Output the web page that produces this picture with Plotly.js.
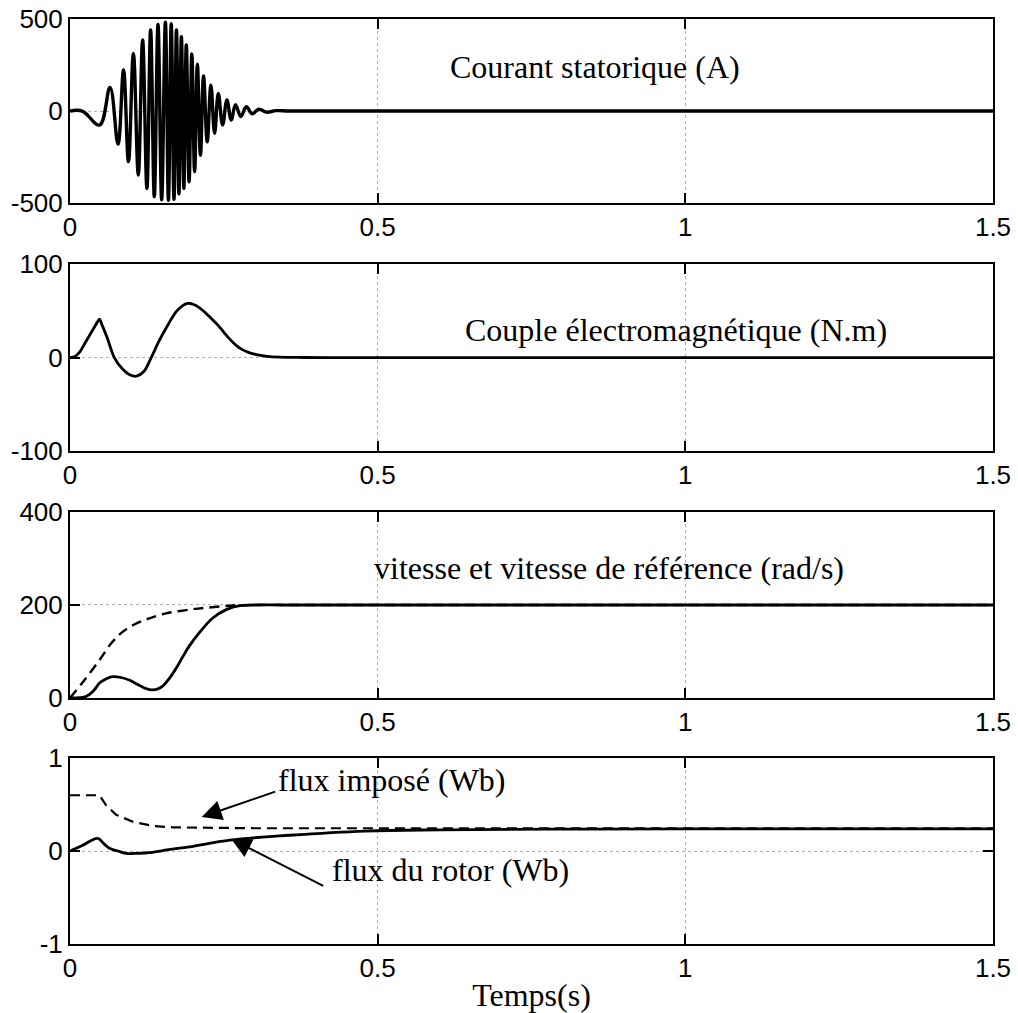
<!DOCTYPE html>
<html><head><meta charset="utf-8">
<script src="https://cdn.plot.ly/plotly-3.0.1.min.js"></script>
<style>body{margin:0;background:#fff}#chart{width:1018px;height:1013px}</style>
</head><body><div id="chart"></div>
<script>
// Panel 1: stator current (A) - extrema
const currentT = [0, 0.02, 0.048, 0.065, 0.078, 0.087, 0.095, 0.103, 0.111, 0.118, 0.125, 0.131, 0.137, 0.143, 0.149, 0.155, 0.160, 0.1645, 0.169, 0.173, 0.177, 0.181, 0.185, 0.189, 0.1935, 0.198, 0.2025, 0.207, 0.212, 0.217, 0.223, 0.229, 0.235, 0.241, 0.248, 0.255, 0.262, 0.269, 0.2775, 0.2865, 0.296, 0.307, 0.319, 0.335, 0.36, 1.5];
const currentA = [0, 0, -76, 128, -180, 223, -275, 313, -348, 386, -420, 440, -465, 471, -482, 482, -485, 474, -480, 440, -450, 404, -420, 359, -384, 310, -330, 255, -240, 190, -167, 141, -121, 96, -76, 60, -49, 35, -30, 23, -15, 10, -6, 2, 0, 0];

// Panel 2: electromagnetic torque (N.m)
const torqueT = [0, 0.008, 0.016, 0.024, 0.032, 0.04, 0.045, 0.048, 0.052, 0.06, 0.072, 0.085, 0.097, 0.108, 0.12, 0.132, 0.145, 0.16, 0.175, 0.191, 0.2, 0.21, 0.22, 0.23, 0.24, 0.25, 0.26, 0.27, 0.28, 0.29, 0.3, 0.31, 0.32, 0.34, 0.37, 0.42, 1.5];
const torqueNm = [0, 1, 6, 15, 24, 33, 38.5, 41, 35, 22, 0, -12, -18.5, -20, -15, 0, 18, 36, 51, 58, 57, 53.5, 48, 41.5, 35, 27, 19.5, 13, 8.5, 5.6, 3.6, 2.2, 1.3, 0.5, 0.1, 0, 0];

// Panel 3: speed and reference speed (rad/s)
const speedT = [0, 0.015, 0.026, 0.038, 0.048, 0.06, 0.07, 0.083, 0.097, 0.11, 0.122, 0.132, 0.142, 0.151, 0.162, 0.173, 0.183, 0.194, 0.21, 0.232, 0.254, 0.276, 0.3, 0.35, 1.5];
const speed = [0, 0.5, 3, 15, 32, 42, 46, 44, 38, 29, 21, 17.5, 19, 26, 43, 65, 88, 112, 140, 172, 190, 198.5, 200, 200, 200];
const speedRefT = [0, 0.0236, 0.048, 0.067, 0.086, 0.108, 0.129, 0.156, 0.189, 0.221, 0.265, 0.3, 0.4, 1.5];
const speedRef = [0, 38.7, 81.7, 117.6, 142.7, 160.6, 171.3, 182, 189, 194, 199, 200, 200, 200];

// Panel 4: imposed flux and rotor flux (Wb)
const fluxRefT = [0, 0.048, 0.059, 0.075, 0.102, 0.135, 0.167, 0.22, 0.3, 1.5];
const fluxRef = [0.6, 0.6, 0.49, 0.39, 0.315, 0.27, 0.255, 0.248, 0.245, 0.245];
const fluxRotorT = [0, 0.02, 0.045, 0.055, 0.064, 0.078, 0.091, 0.11, 0.129, 0.16, 0.194, 0.26, 0.357, 0.48, 0.6, 0.78, 1.0, 1.5];
const fluxRotor = [0, 0.06, 0.137, 0.08, 0.03, 0.0, -0.025, -0.025, -0.018, 0.015, 0.045, 0.118, 0.17, 0.215, 0.228, 0.235, 0.238, 0.238];

// Ticks
const xTickVals = [0, 0.5, 1, 1.5];
const xTickText = ['0', '0.5', '1', '1.5'];
const y1TickVals = [-500, 0, 500]; const y1TickText = ['-500', '0', '500'];
const y2TickVals = [-100, 0, 100]; const y2TickText = ['-100', '0', '100'];
const y3TickVals = [0, 200, 400];  const y3TickText = ['0', '200', '400'];
const y4TickVals = [-1, 0, 1];     const y4TickText = ['-1', '0', '1'];

// Texts
const title1 = 'Courant statorique (A)';
const title2 = 'Couple électromagnétique (N.m)';
const title3 = 'vitesse et vitesse de référence (rad/s)';
const labelFluxRef = 'flux imposé (Wb)';
const labelFluxRotor = 'flux du rotor (Wb)';
const xTitle = 'Temps(s)';

const black = '#000';
const tickFont = {family: 'Liberation Sans Narrow, Liberation Sans, Arial, sans-serif', size: 26, color: black};
const serif = {family: 'Liberation Serif, Times New Roman, serif', size: 32, color: black};

function xAxis(anchor, title) {
  const a = {
    anchor: anchor, range: [0, 1.5], tickvals: xTickVals, ticktext: xTickText,
    ticks: 'inside', ticklen: 10, tickwidth: 2, tickcolor: black,
    showline: true, linewidth: 2, linecolor: black, mirror: 'ticks',
    showgrid: true, gridcolor: '#b0b0b0', griddash: 'dot', gridwidth: 1,
    zeroline: false, tickfont: tickFont, fixedrange: true
  };
  if (title) a.title = {text: title, font: serif, standoff: 2};
  return a;
}
function yAxis(anchor, domain, range, vals, text) {
  return {
    anchor: anchor, domain: domain, range: range, tickvals: vals, ticktext: text,
    ticks: 'inside', ticklen: 10, tickwidth: 2, tickcolor: black,
    showline: true, linewidth: 2, linecolor: black, mirror: 'ticks',
    showgrid: true, gridcolor: '#b0b0b0', griddash: 'dot', gridwidth: 1,
    zeroline: false, tickfont: tickFont, fixedrange: true
  };
}

const solid = {color: black, width: 2.8, shape: 'spline', smoothing: 1};
const dashed = {color: black, width: 2.4, dash: '10px,6px', shape: 'spline', smoothing: 1};

const data = [
  {x: currentT, y: currentA, xaxis: 'x', yaxis: 'y', mode: 'lines', line: {color: black, width: 3.4, shape: 'spline', smoothing: 1.1}},
  {x: torqueT, y: torqueNm, xaxis: 'x2', yaxis: 'y2', mode: 'lines', line: solid},
  {x: speedRefT, y: speedRef, xaxis: 'x3', yaxis: 'y3', mode: 'lines', line: dashed},
  {x: speedT, y: speed, xaxis: 'x3', yaxis: 'y3', mode: 'lines', line: solid},
  {x: fluxRefT, y: fluxRef, xaxis: 'x4', yaxis: 'y4', mode: 'lines', line: {color: black, width: 2.2, dash: '10px,6px'}},
  {x: fluxRotorT, y: fluxRotor, xaxis: 'x4', yaxis: 'y4', mode: 'lines', line: solid}
];

const layout = {
  width: 1018, height: 1013,
  margin: {l: 70, r: 25, t: 19, b: 69},
  paper_bgcolor: '#fff', plot_bgcolor: '#fff',
  showlegend: false,
  xaxis: xAxis('y'), xaxis2: xAxis('y2'), xaxis3: xAxis('y3'), xaxis4: xAxis('y4', xTitle),
  yaxis: yAxis('x', [0.801, 1], [-500, 500], y1TickVals, y1TickText),
  yaxis2: yAxis('x2', [0.533, 0.735], [-100, 100], y2TickVals, y2TickText),
  yaxis3: yAxis('x3', [0.266, 0.467], [0, 400], y3TickVals, y3TickText),
  yaxis4: yAxis('x4', [0, 0.201], [-1, 1], y4TickVals, y4TickText),
  annotations: [
    {xref: 'x', yref: 'y', x: 0.853, y: 239, text: title1, showarrow: false, font: serif},
    {xref: 'x2', yref: 'y2', x: 0.985, y: 29, text: title2, showarrow: false, font: serif},
    {xref: 'x3', yref: 'y3', x: 0.876, y: 280, text: title3, showarrow: false, font: serif},
    {xref: 'x4', yref: 'y4', x: 0.523, y: 0.763, text: labelFluxRef, showarrow: false, font: serif},
    {xref: 'x4', yref: 'y4', x: 0.422, y: -0.204, xanchor: 'left', text: labelFluxRotor, showarrow: false, font: serif},
    {xref: 'x4', yref: 'y4', x: 0.214, y: 0.366, axref: 'x4', ayref: 'y4', ax: 0.336, ay: 0.645, text: '', showarrow: true, arrowhead: 2, arrowsize: 2, arrowwidth: 2, arrowcolor: black},
    {xref: 'x4', yref: 'y4', x: 0.262, y: 0.13, axref: 'x4', ayref: 'y4', ax: 0.414, ay: -0.384, text: '', showarrow: true, arrowhead: 2, arrowsize: 2, arrowwidth: 2, arrowcolor: black}
  ]
};

Plotly.newPlot('chart', data, layout, {displayModeBar: false, staticPlot: true});
</script>
</body></html>
